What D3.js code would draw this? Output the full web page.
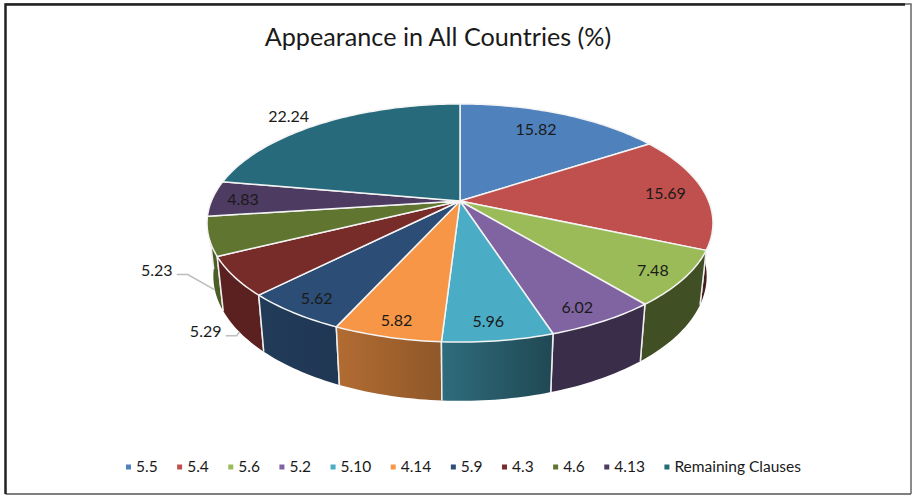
<!DOCTYPE html>
<html>
<head>
<meta charset="utf-8">
<script src="https://cdn.jsdelivr.net/npm/d3@7"></script>
<style>
  html, body { margin: 0; padding: 0; background: #fff; }
  svg { display: block; }
  text { font-family: Lato, "Open Sans", sans-serif; fill: #1a1a1a; }
</style>
</head>
<body>
<svg id="chart" width="912" height="495"></svg>
<script>
const categories = ["5.5", "5.4", "5.6", "5.2", "5.10", "4.14", "5.9", "4.3", "4.6", "4.13", "Remaining Clauses"];
const values = [15.82, 15.69, 7.48, 6.02, 5.96, 5.82, 5.62, 5.29, 5.23, 4.83, 22.24];
const colors = ["#4f81bd", "#c0504d", "#9bbb59", "#8064a2", "#4bacc6", "#f79646", "#2c4d75", "#772c2a", "#5f7530", "#4d3b62", "#276a7c"];

// how far out each label sits (1 = rim), and how far it is turned from the slice middle (degrees)
const labelRadius = [0.79, 0.84, 0.88, 0.88, 0.88, 0.89, 0.88, 1.26, 1.223, 0.876, 1.17];
const labelTurn = [-2.5, 0, 0.5, 1.5, 1, 0, 0, -12, -9.2, 0, -3];
const leaderSlices = ["4.3", "4.6"];

// wall brightness, left and right end of each slice side
const wallLeft = [0.5, 0.36, 0.42, 0.45, 0.63, 0.72, 0.76, 0.76, 0.8, 0.6, 0.5];
const wallRight = [0.5, 0.36, 0.42, 0.45, 0.42, 0.58, 0.72, 0.76, 0.8, 0.6, 0.5];

const svg = d3.select("#chart");

// the pie is a flat disc seen in perspective
const persp = 0.185;
const top_ = { cx: 460, cy: 201, a: 248.6, b: 115 };
const bottom = { cx: 460, cy: 253, a: 242.4, b: 120.5 };
const project = (plane, angle, r = 1) => {
    const x = Math.sin(angle) * r, y = Math.cos(angle) * r;
    const s = 1 / (1 + persp * y);
    return [plane.cx + plane.a * x * s, plane.cy - plane.b * y * s];
};

const color = d3.scaleOrdinal().domain(categories).range(colors);
const slices = d3.pie().sort(null).value(d => d.value)(
    categories.map((name, i) => ({ name, value: values[i], i }))
);
const arcPoints = (plane, d) => {
    const n = Math.max(2, Math.ceil((d.endAngle - d.startAngle) / 0.02));
    return d3.range(n + 1).map(k => project(plane, d.startAngle + (d.endAngle - d.startAngle) * k / n));
};
const line = d3.line();
const midAngle = d => (d.startAngle + d.endAngle) / 2;

// frame: heavy on the top and left, thin on the other two sides
const frame = svg.append("g").attr("class", "frame").attr("fill", "none");
frame.append("path").attr("d", line([[911, 494], [911, 4], [5.5, 4]])).attr("stroke", "#666").attr("stroke-width", 1.5);
frame.append("path").attr("d", line([[911, 494], [5.5, 494]])).attr("stroke", "#555").attr("stroke-width", 1.5);
frame.append("path").attr("d", line([[5.5, 494], [5.5, 4.5], [905, 4.5]])).attr("stroke", "#222").attr("stroke-width", 2.5);

const defs = svg.append("defs");

// walls, back to front
const walls = svg.append("g").attr("class", "walls");
slices.slice().sort((a, b) => Math.cos(midAngle(b)) - Math.cos(midAngle(a))).forEach(d => {
    const i = d.data.i;
    const topPts = arcPoints(top_, d), botPts = arcPoints(bottom, d);
    const xs = d3.extent(topPts.concat(botPts), p => p[0]);
    const base = d3.rgb(color(d.data.name));
    const shade = k => d3.rgb(base.r * k, base.g * k, base.b * k);
    const grad = defs.append("linearGradient").attr("id", `wall-${i}`)
        .attr("gradientUnits", "userSpaceOnUse")
        .attr("x1", xs[0]).attr("x2", xs[1]).attr("y1", 0).attr("y2", 0);
    grad.append("stop").attr("offset", 0).attr("stop-color", shade(wallLeft[i]));
    grad.append("stop").attr("offset", 1).attr("stop-color", shade(wallRight[i]));
    walls.append("path")
        .attr("d", line(topPts.concat(botPts.reverse())) + "Z")
        .attr("fill", `url(#wall-${i})`);
    [d.startAngle, d.endAngle].forEach(a => {
        walls.append("path")
            .attr("d", line([project(top_, a), project(bottom, a)]))
            .attr("stroke", "#eee").attr("stroke-width", 1.5).attr("fill", "none");
    });
});

// top face
svg.append("g").attr("class", "faces").selectAll("path")
    .data(slices)
    .enter()
    .append("path")
    .attr("d", d => line([[top_.cx, top_.cy]].concat(arcPoints(top_, d))) + "Z")
    .attr("fill", d => color(d.data.name))
    .attr("stroke", "#f4f4f4")
    .attr("stroke-width", 1.5)
    .attr("stroke-linejoin", "round");

// leader lines for the two labels pushed outside
const labelPos = d => project(top_, midAngle(d) + labelTurn[d.data.i] * Math.PI / 180, labelRadius[d.data.i]);
svg.append("g").attr("class", "leaders").selectAll("path")
    .data(slices.filter(d => leaderSlices.includes(d.data.name)))
    .enter()
    .append("path")
    .attr("d", d => {
        const p = labelPos(d);
        return line([[p[0] + 20, p[1] + 5], [p[0] + 31, p[1] + 5], project(bottom, midAngle(d))]);
    })
    .attr("fill", "none")
    .attr("stroke", "#bdbdbd")
    .attr("stroke-width", 1.5);

// data labels
svg.append("g").attr("class", "labels").selectAll("text")
    .data(slices)
    .enter()
    .append("text")
    .attr("x", d => labelPos(d)[0])
    .attr("y", d => labelPos(d)[1])
    .attr("dy", "0.4em")
    .attr("text-anchor", "middle")
    .style("font-size", "16px")
    .text(d => d.data.value.toFixed(2));

// title
svg.append("text")
    .attr("x", 438)
    .attr("y", 46)
    .attr("text-anchor", "middle")
    .style("font-size", "25.2px")
    .text("Appearance in All Countries (%)");

// legend, laid out from the measured text widths
const legend = svg.append("g").attr("class", "legend").attr("transform", "translate(126,467)");
let legendX = 0;
categories.forEach(name => {
    const g = legend.append("g").attr("transform", `translate(${legendX},0)`);
    g.append("rect").attr("x", 0).attr("y", -2.5).attr("width", 5).attr("height", 5).attr("fill", color(name));
    const t = g.append("text").attr("x", 10).attr("dy", "0.35em").style("font-size", "15.5px").text(name);
    legendX += 10 + t.node().getComputedTextLength() + 19.5;
});
</script>
</body>
</html>
